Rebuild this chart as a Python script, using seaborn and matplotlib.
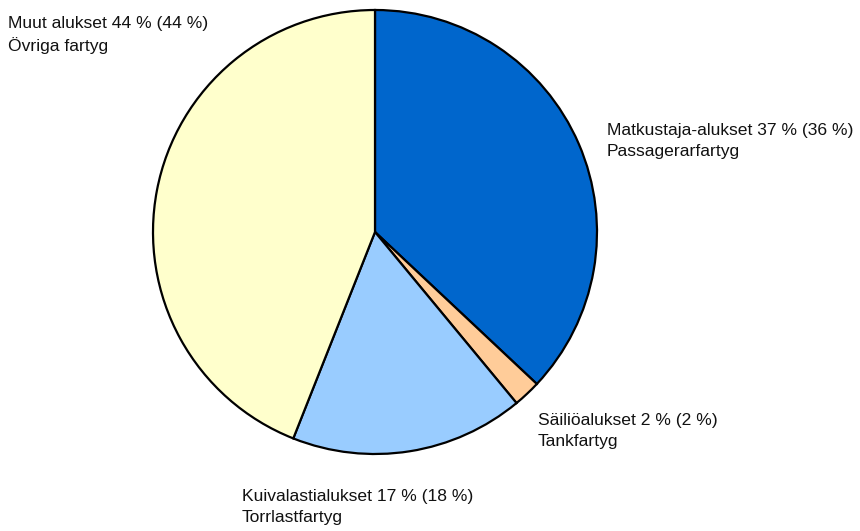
import matplotlib
matplotlib.use("Agg")
import matplotlib.pyplot as plt
import seaborn as sns

# Data
categories = ["Matkustaja-alukset", "Säiliöalukset", "Kuivalastialukset", "Muut alukset"]
categories_sv = ["Passagerarfartyg", "Tankfartyg", "Torrlastfartyg", "Övriga fartyg"]
shares = [37, 2, 17, 44]
shares_prev = [36, 2, 18, 44]
colors = ["#0066CC", "#FFCC99", "#99CCFF", "#FFFFCC"]

sns.set_theme(style="white")
plt.rcParams['font.family'] = ['Liberation Sans Narrow', 'Liberation Sans', 'DejaVu Sans']

fig = plt.figure(figsize=(8.6, 5.31), dpi=100)
ax = fig.add_axes([0, 0, 1, 1])

ax.pie(shares, colors=colors, startangle=90, counterclock=False,
       center=(375, 299), radius=222, frame=True,
       wedgeprops=dict(edgecolor='black', linewidth=1.6))
ax.set_xlim(0, 860)
ax.set_ylim(0, 531)
ax.axis('off')

# label anchor positions (pixels, from top-left)
label_pos = [(607, 141), (538, 431), (242, 507), (8, 35)]
for name, sv, s, p, (x, y) in zip(categories, categories_sv, shares, shares_prev, label_pos):
    ax.text(x, 531 - y, f"{name} {s} % ({p} %)\n{sv}", ha='left', va='center',
            fontsize=12.6, color='#111111', linespacing=1.5)

fig.savefig("out.png", dpi=100)
